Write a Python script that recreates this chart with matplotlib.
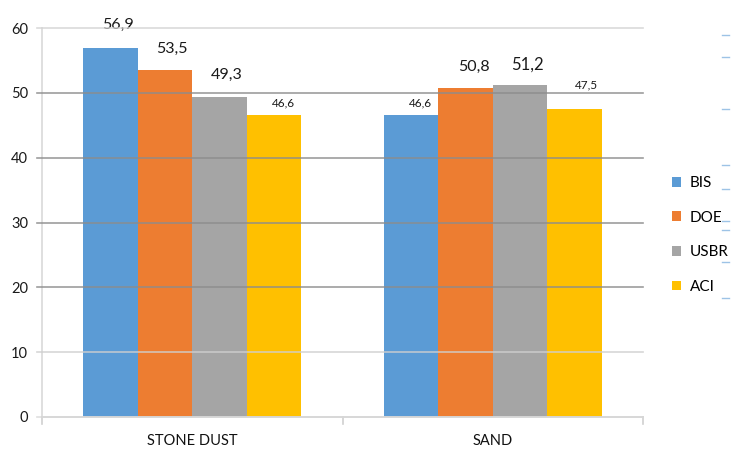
import numpy as np
import matplotlib
matplotlib.use("Agg")
import matplotlib.pyplot as plt
from matplotlib.lines import Line2D

plt.rcParams['font.family'] = ['Lato', 'Liberation Sans', 'DejaVu Sans']

# ------------------------------------------------------------------
# Datos
# ------------------------------------------------------------------
categorias = ["STONE DUST", "SAND"]
metodos    = ["BIS", "DOE", "USBR", "ACI"]
valores = {
    "BIS":  [56.9, 46.6],
    "DOE":  [53.5, 50.8],
    "USBR": [49.3, 51.2],
    "ACI":  [46.6, 47.5],
}
etiquetas = {
    "BIS":  ["56,9", "46,6"],
    "DOE":  ["53,5", "50,8"],
    "USBR": ["49,3", "51,2"],
    "ACI":  ["46,6", "47,5"],
}
y_ticks = [0, 10, 20, 30, 40, 50, 60]

# ------------------------------------------------------------------
# Estilo
# ------------------------------------------------------------------
colores = {"BIS": "#5b9bd5", "DOE": "#ed7d31", "USBR": "#a5a5a5", "ACI": "#ffc000"}
color_grid = ["#d9d9d9", "#cfcfcf", "#8c8c8c", "#8c8c8c", "#8c8c8c", "#8c8c8c", "#d4d4d4"]
# tamaño de fuente y desplazamiento (px) de cada etiqueta, por método y grupo
tam_etq = {"BIS": [11.5, 8.5], "DOE": [11.5, 11.5], "USBR": [11.5, 12], "ACI": [8.5, 8.5]}
dy_etq  = {"BIS": [23, 12], "DOE": [21, 21], "USBR": [22, 20], "ACI": [12, 24]}
dx_etq  = {"BIS": [7, 9], "DOE": [7, 8], "USBR": [7, 7], "ACI": [10, 12]}

ancho = 0.181
x = np.arange(len(categorias))

fig = plt.figure(figsize=(7.35, 4.49), dpi=100)
ax = fig.add_axes([42 / 735, 32 / 449, 601 / 735, 389 / 449])

px = 72 / 100  # pixeles -> puntos
for i, m in enumerate(metodos):
    pos = x + (i - 1.5) * ancho
    ax.bar(pos, valores[m], width=ancho, color=colores[m], zorder=2, label=m)
    for j in range(len(categorias)):
        ax.annotate(etiquetas[m][j], xy=(pos[j], valores[m][j]),
                    xytext=(dx_etq[m][j] * px, dy_etq[m][j] * px),
                    textcoords='offset points', ha='center', va='center',
                    fontsize=tam_etq[m][j], color='#1a1a1a', annotation_clip=False)

# líneas de la grilla por encima de las barras
for yv, c in zip(y_ticks, color_grid):
    ax.add_line(Line2D([-0.517, 1.5], [yv, yv], color=c, lw=1.2, alpha=0.85,
                       zorder=3, clip_on=False, transform=ax.transData))

ax.set_xlim(-0.5, 1.5)
ax.set_ylim(0, 60)
ax.set_yticks(y_ticks)
ax.set_yticklabels([str(v) for v in y_ticks], fontsize=10.5, color='#1a1a1a')
ax.tick_params(axis='y', length=0, pad=10)
ax.set_xticks(x)
ax.set_xticklabels(categorias, fontsize=10.5, color='#111111')
ax.tick_params(axis='x', length=0, pad=12)

# separadores de categoría en el eje x
for xs in [-0.5, 0.5, 1.5]:
    ax.add_line(Line2D([xs, xs], [0, -1.1], color='#d0d0d0', lw=1.2,
                       clip_on=False, transform=ax.transData))

for s in ['top', 'right']:
    ax.spines[s].set_visible(False)
ax.spines['left'].set_color('#d9d9d9')
ax.spines['bottom'].set_color('#d0d0d0')
ax.spines['left'].set_linewidth(1.2)
ax.spines['bottom'].set_linewidth(1.2)

ax.legend(loc='center left', bbox_to_anchor=(658 / 735, 1 - 235 / 449),
          bbox_transform=fig.transFigure, frameon=False, fontsize=11,
          handlelength=0.6, handleheight=0.6, handletextpad=0.6,
          labelspacing=1.35)

# pequeñas marcas azules en el borde derecho
for yp in [35, 57, 109, 165, 189, 221, 230, 262, 298]:
    fig.add_artist(Line2D([722 / 735, 729 / 735], [1 - yp / 449, 1 - yp / 449],
                          color='#9dc3e6', lw=1.0, transform=fig.transFigure))

fig.savefig("out.png", dpi=100)
